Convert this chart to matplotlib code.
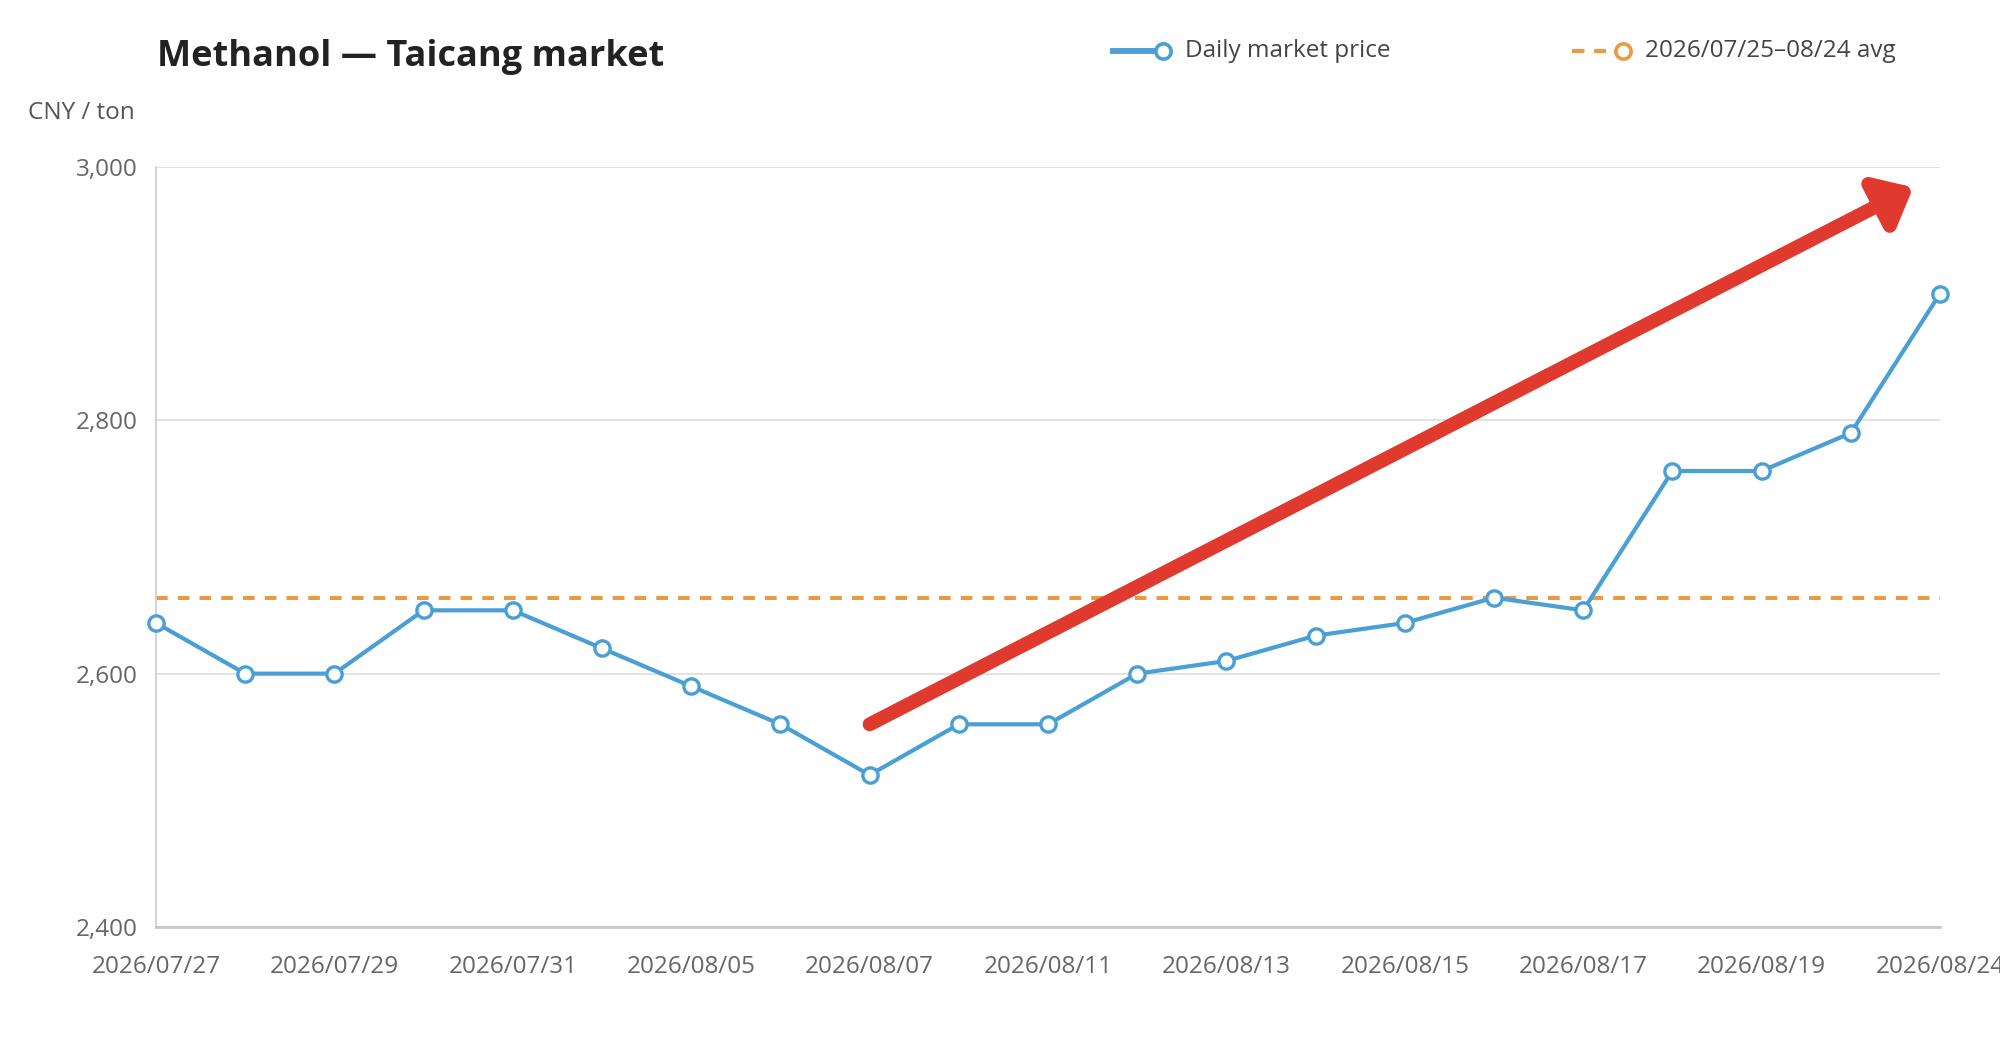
import matplotlib
matplotlib.use('Agg')
import matplotlib.pyplot as plt
from matplotlib.lines import Line2D
import numpy as np

plt.rcParams['font.family'] = ['Open Sans', 'DejaVu Sans']

# Chart data
dates = ["2026/07/27", "2026/07/28", "2026/07/29", "2026/07/30", "2026/07/31",
         "2026/08/04", "2026/08/05", "2026/08/06", "2026/08/07", "2026/08/10",
         "2026/08/11", "2026/08/12", "2026/08/13", "2026/08/14", "2026/08/15",
         "2026/08/16", "2026/08/17", "2026/08/18", "2026/08/19", "2026/08/20",
         "2026/08/24"]
prices = [2640, 2600, 2600, 2650, 2650, 2620, 2590, 2560, 2520, 2560,
          2560, 2600, 2610, 2630, 2640, 2660, 2650, 2760, 2760, 2790, 2900]
avg_price = 2660
series_label = "Daily market price"
avg_label = "2026/07/25\u201308/24 avg"
y_ticks = [2400, 2600, 2800, 3000]
# trend arrow (category index, price)
arrow_start = (8, 2560)
arrow_end = (19.7, 2984)

blue = '#4A9FD5'
orange = '#E99A45'
red = '#E03A2E'
grey_text = '#666666'

W, H = 2000, 1040
fig = plt.figure(figsize=(W / 100, H / 100), dpi=100)
ax = fig.add_axes([0.078, 0.1087, 0.892, 0.7307])

x = np.arange(len(dates))

#Average line across the whole plot
ax.axhline(avg_price, color=orange, lw=2.9, dashes=(2.9, 2.5), zorder=2)

#Daily price line
ax.plot(x, prices, color=blue, lw=3, marker='o', markersize=11,
        markerfacecolor='white', markeredgecolor=blue, markeredgewidth=2.4,
        zorder=4, clip_on=False)

#Trend arrow
ax.annotate('', xy=arrow_end, xytext=arrow_start,
            arrowprops=dict(arrowstyle='-|>,head_length=2.0,head_width=1.7',
                            color=red, lw=10, capstyle='round',
                            shrinkA=0, shrinkB=0),
            zorder=5)

ax.set_xlim(0, len(dates) - 1)
ax.set_ylim(y_ticks[0], y_ticks[-1])
ax.set_yticks(y_ticks)
ax.set_yticklabels(['{:,}'.format(v) for v in y_ticks])
ax.set_xticks(x[::2])
ax.set_xticklabels(dates[::2])

ax.grid(axis='y', color='#dddddd', lw=1.2)
ax.set_axisbelow(True)
for side in ['top', 'right']:
    ax.spines[side].set_visible(False)
ax.spines['left'].set_color('#cccccc')
ax.spines['left'].set_linewidth(1.2)
ax.spines['bottom'].set_color('#c8c8c8')
ax.spines['bottom'].set_linewidth(2)
ax.tick_params(axis='both', length=0, labelsize=17.5, labelcolor=grey_text)
ax.tick_params(axis='x', pad=20)
ax.tick_params(axis='y', pad=13)

fig.text(157 / W, 1 - 57 / H, 'Methanol \u2014 Taicang market', fontsize=26,
         fontweight='bold', color='#222222', va='center', ha='left')
fig.text(28 / W, 1 - 113 / H, 'CNY / ton', fontsize=17.5, color='#555555',
         va='center', ha='left')

#Legend drawn by hand so the marker sits at the end of the sample line
ly = 1 - 51 / H
fig.add_artist(Line2D([1113 / W, 1160 / W], [ly, ly], color=blue, lw=4.2,
                      transform=fig.transFigure))
fig.add_artist(Line2D([1163 / W], [ly], marker='o', markersize=11,
                      markerfacecolor='white', markeredgecolor=blue,
                      markeredgewidth=2.6, transform=fig.transFigure))
fig.text(1185 / W, ly, series_label, fontsize=17.5, color='#444444',
         va='center', ha='left')
fig.add_artist(Line2D([1572 / W, 1606 / W], [ly, ly], color=orange, lw=3,
                      dashes=(3.0, 2.3), transform=fig.transFigure))
fig.add_artist(Line2D([1623 / W], [ly], marker='o', markersize=11,
                      markerfacecolor='white', markeredgecolor=orange,
                      markeredgewidth=2.6, transform=fig.transFigure))
fig.text(1645 / W, ly, avg_label, fontsize=17.5, color='#444444',
         va='center', ha='left')

fig.savefig('out.png', dpi=100)
